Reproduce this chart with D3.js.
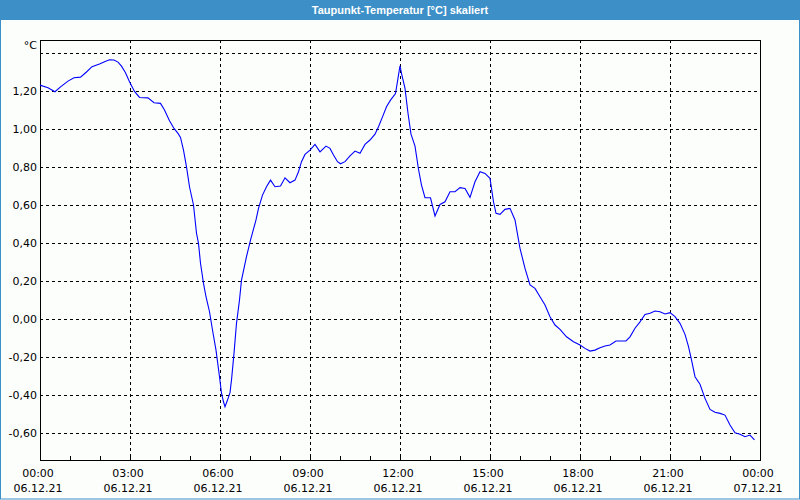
<!DOCTYPE html>
<html><head><meta charset="utf-8">
<script src="https://cdn.jsdelivr.net/npm/d3@7"></script>
<style>html,body{margin:0;padding:0;background:#fff}svg{display:block}</style>
</head><body>
<script>
const title = "Taupunkt-Temperatur [°C] skaliert";
const unitLabel = "°C";
// minutes since 06.12.21 00:00
const minutes = [0,16,30,41,56,68,81,93,104,119,129,139,148,156,163,171,179,189,199,216,228,241,249,259,268,276,281,287,293,299,
307,313,317,321,327,332,339,345,352,359,363,367,370,375,380,383,388,393,399,403,413,421,432,437,445,453,461,470,481,490,500,510,517,523,530,540,550,560,572,580,587,595,601,610,620,630,640,650,660,670,677,685,693,701,711,717,720,723,730,736,742,750,757,763,770,781,790,800,810,820,830,840,850,860,870,880,890,900,907,912,920,930,940,950,960,970,980,990,1000,1010,1020,1030,1040,1053,1067,1080,1090,1100,1110,1120,1130,1140,1152,1172,1180,1190,1200,1210,1220,1230,1240,1250,1260,1270,1280,1290,1297,1303,1310,1320,1330,1340,1350,1360,1370,1380,1390,1400,1410,1420,1429];
const values = [1.233,1.219,1.198,1.224,1.254,1.272,1.275,1.302,1.330,1.344,1.356,1.366,1.365,1.354,1.333,1.298,1.251,1.200,1.168,1.166,1.140,1.137,1.102,1.045,1.005,0.979,0.958,0.891,0.803,0.698,
0.602,0.453,0.400,0.295,0.189,0.119,0.040,-0.056,-0.162,-0.302,-0.389,-0.434,-0.460,-0.425,-0.386,-0.319,-0.179,-0.021,0.102,0.207,0.330,0.417,0.523,0.584,0.654,0.698,0.733,0.698,0.702,0.745,0.719,0.733,0.777,0.830,0.868,0.891,0.921,0.882,0.912,0.900,0.865,0.830,0.819,0.830,0.861,0.886,0.874,0.921,0.944,0.975,1.014,1.066,1.119,1.154,1.189,1.286,1.335,1.295,1.216,1.085,0.975,0.912,0.790,0.707,0.640,0.640,0.544,0.605,0.619,0.672,0.672,0.693,0.689,0.642,0.724,0.777,0.768,0.742,0.619,0.558,0.553,0.579,0.584,0.523,0.374,0.268,0.181,0.163,0.119,0.075,0.014,-0.030,-0.053,-0.092,-0.118,-0.135,-0.153,-0.167,-0.162,-0.149,-0.140,-0.135,-0.114,-0.114,-0.092,-0.047,-0.013,0.026,0.032,0.044,0.040,0.028,0.035,0.014,-0.021,-0.079,-0.144,-0.214,-0.302,-0.342,-0.416,-0.474,-0.489,-0.495,-0.504,-0.556,-0.597,-0.605,-0.618,-0.609,-0.635];
const yTicks = [1.4,1.2,1.0,0.8,0.6,0.4,0.2,0.0,-0.2,-0.4,-0.6];
const yTickLabels = ["","1,20","1,00","0,80","0,60","0,40","0,20","0,00","-0,20","-0,40","-0,60"];
const xTickHours = [0,3,6,9,12,15,18,21,24];
const xTimeLabels = ["00:00","03:00","06:00","09:00","12:00","15:00","18:00","21:00","00:00"];
const xDateLabels = ["06.12.21","06.12.21","06.12.21","06.12.21","06.12.21","06.12.21","06.12.21","06.12.21","07.12.21"];
const yDomain = [-0.7405, 1.4705];

const W = 800, H = 500;
const L = 40, R = 760, T = 40, B = 460;
const start = new Date(2021, 11, 6, 0, 0);
const t = m => new Date(start.getTime() + m * 60000);

const svg = d3.select("body").append("svg").attr("width", W).attr("height", H);
svg.append("rect").attr("x",0).attr("y",0).attr("width",W).attr("height",H).attr("fill","#fcfefc");
svg.append("rect").attr("x",0.5).attr("y",0.5).attr("width",W-1).attr("height",H-1.5)
  .attr("fill","none").attr("stroke","#3c8fc7").attr("stroke-width",1);
svg.append("rect").attr("x",0).attr("y",0).attr("width",W).attr("height",20).attr("fill","#3c8fc7");
svg.append("text").attr("x",400).attr("y",14).attr("text-anchor","middle")
  .attr("font-family","Liberation Sans, Arial, sans-serif").attr("font-size",11).attr("font-weight","bold")
  .attr("fill","#ffffff").text(title);

const x = d3.scaleTime().domain([t(0), t(1440)]).range([L, R]);
const y = d3.scaleLinear().domain(yDomain).range([B, T]);

const font = "Tahoma, 'DejaVu Sans', sans-serif";
const g = svg.append("g");

// horizontal grid
g.selectAll("line.hg").data(yTicks).join("line")
  .attr("x1", L).attr("x2", R)
  .attr("y1", d => Math.round(y(d)) + 0.5).attr("y2", d => Math.round(y(d)) + 0.5)
  .attr("stroke","#000").attr("stroke-dasharray","3,3").attr("shape-rendering","crispEdges");
// vertical grid
g.selectAll("line.vg").data(xTickHours.slice(1, -1)).join("line")
  .attr("x1", d => Math.round(x(t(d*60))) + 0.5).attr("x2", d => Math.round(x(t(d*60))) + 0.5)
  .attr("y1", T).attr("y2", B)
  .attr("stroke","#000").attr("stroke-dasharray","3,3").attr("shape-rendering","crispEdges");
// minor ticks each hour
g.selectAll("line.mt").data(d3.range(1, 24)).join("line")
  .attr("x1", d => Math.round(x(t(d*60))) + 0.5).attr("x2", d => Math.round(x(t(d*60))) + 0.5)
  .attr("y1", B - 4).attr("y2", B)
  .attr("stroke","#000").attr("shape-rendering","crispEdges");
// frame
g.append("rect").attr("x", L + 0.5).attr("y", T + 0.5).attr("width", R - L).attr("height", B - T)
  .attr("fill","none").attr("stroke","#000").attr("stroke-width",1).attr("shape-rendering","crispEdges");

// y labels
g.selectAll("text.yl").data(yTicks).join("text")
  .attr("x", 37).attr("y", d => y(d) + 4).attr("text-anchor","end")
  .attr("font-family", font).attr("font-size", 11).attr("fill","#000")
  .text((d,i) => yTickLabels[i]);
g.append("text").attr("x", 37).attr("y", 49).attr("text-anchor","end")
  .attr("font-family", font).attr("font-size", 11).attr("fill","#000").text(unitLabel);

// x labels
g.selectAll("text.xt").data(xTickHours).join("text")
  .attr("x", d => x(t(d*60)) - 2).attr("y", 477).attr("text-anchor","middle")
  .attr("font-family", font).attr("font-size", 11).attr("fill","#000")
  .text((d,i) => xTimeLabels[i]);
g.selectAll("text.xd").data(xTickHours).join("text")
  .attr("x", d => x(t(d*60)) - 2).attr("y", 492).attr("text-anchor","middle")
  .attr("font-family", font).attr("font-size", 11).attr("fill","#000")
  .text((d,i) => xDateLabels[i]);

// data line
const pts = minutes.map((m,i) => [t(m), values[i]]);
const line = d3.line().x(d => x(d[0])).y(d => y(d[1]));
g.append("path").attr("d", line(pts)).attr("fill","none").attr("stroke","#0000ff").attr("stroke-width",1.1);
</script>
</body></html>
